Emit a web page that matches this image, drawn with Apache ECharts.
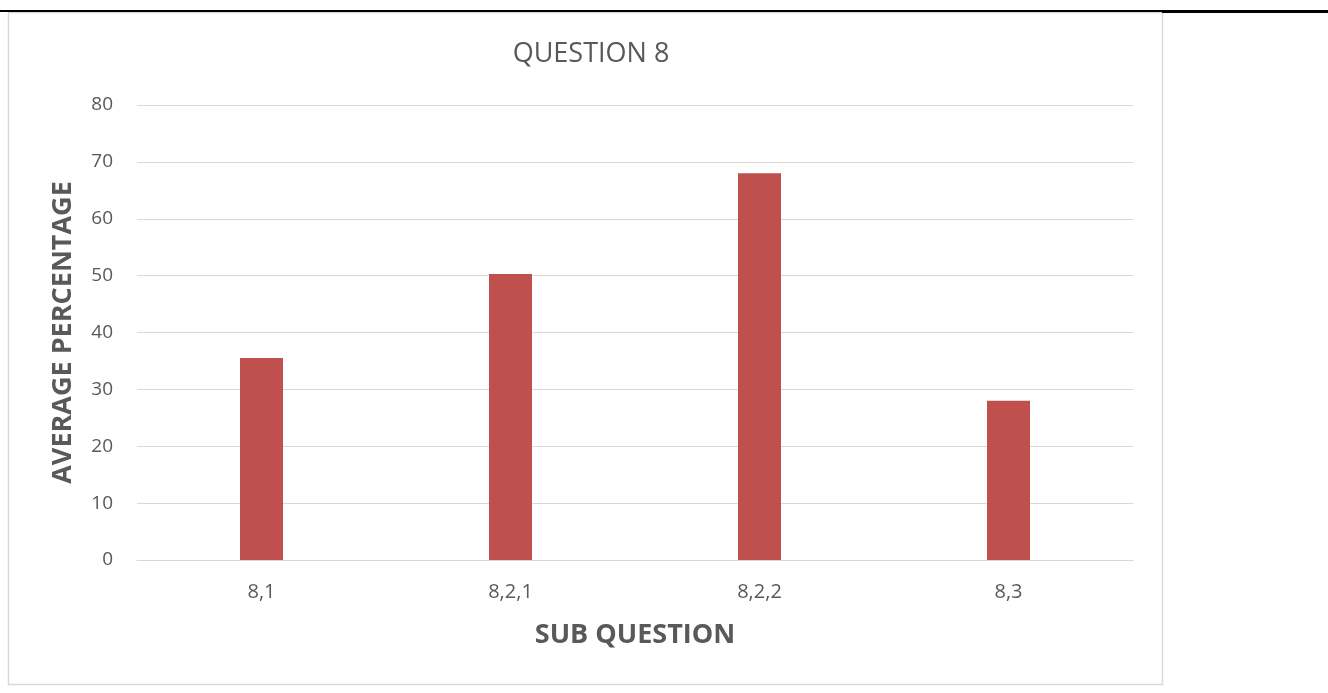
<!DOCTYPE html>
<html>
<head>
<meta charset="utf-8">
<script src="https://cdn.jsdelivr.net/npm/echarts@6/dist/echarts.min.js"></script>
<style>html,body{margin:0;padding:0;background:#fff}#c{width:1328px;height:693px}</style>
</head>
<body>
<div id="c"></div>
<script>
const categories = ['8,1', '8,2,1', '8,2,2', '8,3'];
const values = [35.5, 50.3, 68, 28];
const yTicks = [0, 10, 20, 30, 40, 50, 60, 70, 80];

const chart = echarts.init(document.getElementById('c'), null, {renderer: 'canvas'});
const FONT = '"Open Sans", Calibri, sans-serif';
chart.setOption({
  animation: false,
  backgroundColor: '#fff',
  title: {
    text: 'QUESTION 8',
    left: 586, top: 36, textAlign: 'center',
    textStyle: {fontFamily: FONT, fontSize: 27, fontWeight: 'normal', color: '#595959'}
  },
  grid: {left: 137, right: 195, top: 105, bottom: 133, containLabel: false},
  xAxis: {
    type: 'category',
    data: categories,
    name: 'SUB QUESTION',
    nameLocation: 'middle',
    nameGap: 62,
    nameTextStyle: {fontFamily: FONT, fontSize: 27, fontWeight: 'bold', color: '#595959'},
    axisLine: {show: true, lineStyle: {color: '#d9d9d9', width: 1}},
    axisTick: {show: false},
    axisLabel: {fontFamily: FONT, fontSize: 20, color: '#595959', margin: 22}
  },
  yAxis: {
    type: 'value',
    min: yTicks[0], max: yTicks[yTicks.length - 1], interval: 10,
    name: 'AVERAGE PERCENTAGE',
    nameLocation: 'middle',
    nameGap: 60,
    nameRotate: 90,
    nameTextStyle: {fontFamily: FONT, fontSize: 27, fontWeight: 'bold', color: '#595959'},
    axisLine: {show: false},
    axisTick: {show: false},
    axisLabel: {fontFamily: FONT, fontSize: 19, color: '#595959', margin: 24},
    splitLine: {lineStyle: {color: '#d9d9d9', width: 1}}
  },
  series: [{
    type: 'bar',
    data: values,
    barWidth: 43,
    itemStyle: {color: '#c0504d'}
  }],
  graphic: [
    {type: 'rect', shape: {x: 8.5, y: 12.5, width: 1154, height: 672}, style: {fill: null, stroke: '#d9d9d9', lineWidth: 1.5}, z: -1},
    {type: 'line', shape: {x1: 0, y1: 11, x2: 1162, y2: 11}, style: {stroke: '#000', lineWidth: 2}},
    {type: 'line', shape: {x1: 1162, y1: 11.5, x2: 1328, y2: 11.5}, style: {stroke: '#000', lineWidth: 3}}
  ]
});
</script>
</body>
</html>
